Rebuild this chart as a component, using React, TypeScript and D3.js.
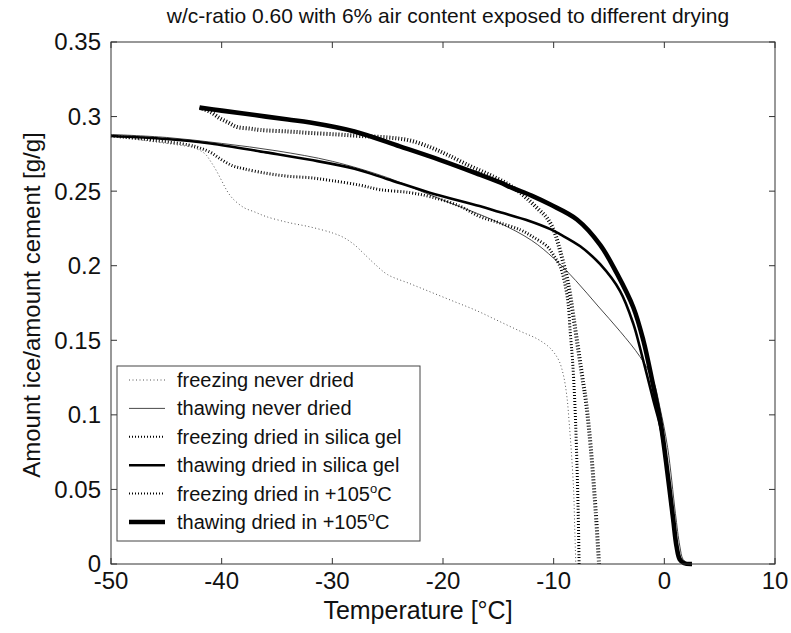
import React from "react";
import * as d3 from "d3";

const title = "w/c-ratio 0.60 with 6% air content exposed to different drying";
const xLabel = "Temperature [°C]";
const yLabel = "Amount ice/amount cement [g/g]";
const xTicks = [-50, -40, -30, -20, -10, 0, 10];
const yTicks = [0, 0.05, 0.1, 0.15, 0.2, 0.25, 0.3, 0.35];
const yTickLabels = ["0", "0.05", "0.1", "0.15", "0.2", "0.25", "0.3", "0.35"];

// freezing never dried
const fndT = [-50,-48,-46,-44,-42.5,-41.5,-41,-40.5,-40,-39.5,-39,-38,-37,-36,-34,-32,-30,-29,-28,-27,-26,-25,-23,-21,-19,-17,-15,-13,-11.5,-10.5,-10,-9.5,-9.1,-8.8,-8.6,-8.4,-8.2,-8.1,-8.0];
const fndV = [0.287,0.285,0.283,0.281,0.279,0.275,0.27,0.264,0.257,0.25,0.245,0.239,0.236,0.233,0.229,0.226,0.222,0.219,0.214,0.207,0.2,0.194,0.188,0.182,0.176,0.17,0.163,0.156,0.151,0.146,0.142,0.136,0.126,0.112,0.095,0.075,0.05,0.025,0.0];
// thawing never dried
const tndT = [-50,-45,-40,-35,-30,-25,-22,-20,-15,-12,-10,-8,-6,-4,-2.2,-1,-0.4,0.3,1.0,1.4,1.7,2.2];
const tndV = [0.288,0.286,0.282,0.277,0.27,0.259,0.25,0.244,0.229,0.217,0.205,0.19,0.173,0.156,0.139,0.123,0.105,0.078,0.034,0.012,0.003,0];
// freezing dried in silica gel
const fsgT = [-50,-46,-43,-42,-41,-40,-39,-38,-36,-34,-32,-30,-27.5,-25.7,-23,-21,-18.5,-16.7,-15,-13,-11.8,-10.6,-10,-9.4,-9,-8.7,-8.5,-8.3,-8.1,-7.95,-7.8,-7.7];
const fsgV = [0.287,0.284,0.281,0.279,0.276,0.271,0.267,0.265,0.262,0.26,0.259,0.257,0.254,0.251,0.249,0.246,0.24,0.233,0.229,0.224,0.219,0.213,0.207,0.199,0.188,0.175,0.155,0.137,0.11,0.08,0.04,0.0];
// thawing dried in silica gel
const tsgT = [-50,-45,-41,-36,-32,-28,-25,-21.2,-16.7,-14.9,-12.2,-10.3,-9.4,-7.6,-5.8,-4.0,-2.8,-2.2,-1.0,-0.3,0.3,0.7,1.0,1.3,1.6,2.0];
const tsgV = [0.287,0.285,0.282,0.276,0.271,0.265,0.258,0.249,0.24,0.236,0.23,0.2245,0.221,0.213,0.201,0.183,0.161,0.145,0.11,0.09,0.06,0.034,0.018,0.006,0.001,0];
// freezing dried in +105
const f105T = [-42,-41,-40.2,-39.4,-38.6,-37.5,-36.5,-34,-32,-29.5,-27.5,-25,-23,-21,-19.5,-17.6,-15.8,-14.2,-13.2,-12.4,-11.4,-10.6,-10,-9.6,-9.2,-8.8,-8.5,-8.2,-7.9,-7.6,-7.3,-7.1,-6.8,-6.5,-6.2,-5.9];
const f105V = [0.306,0.303,0.299,0.296,0.293,0.292,0.291,0.29,0.289,0.288,0.287,0.286,0.284,0.279,0.274,0.267,0.261,0.255,0.25,0.245,0.238,0.232,0.224,0.215,0.204,0.192,0.18,0.165,0.15,0.135,0.12,0.11,0.09,0.065,0.035,0];
// thawing dried in +105
const t105T = [-42,-40,-37,-34,-32,-28,-23.9,-20.3,-17,-14.9,-13.7,-12,-10.3,-7.9,-5.8,-4.3,-2.8,-1.9,-1.1,-0.3,0.3,0.8,1.1,1.4,1.8,2.5];
const t105V = [0.306,0.304,0.301,0.298,0.296,0.29,0.28,0.271,0.262,0.256,0.252,0.247,0.241,0.231,0.214,0.195,0.172,0.15,0.123,0.093,0.06,0.03,0.012,0.003,0.0005,0];

const seriesNames = [
  "freezing never dried",
  "thawing never dried",
  "freezing dried in silica gel",
  "thawing dried in silica gel",
  "freezing dried in +105",
  "thawing dried in +105",
];

const W = 791, H = 633;
const L = 111, R = 775, T = 42, B = 564;
const FONT = "'Liberation Sans', Arial, sans-serif";

export default function App() {
  const x = d3.scaleLinear().domain([-50, 10]).range([L, R]);
  const y = d3.scaleLinear().domain([0, 0.35]).range([B, T]);
  const lineN = d3.line<[number, number]>().x(d => x(d[0])).y(d => y(d[1])).curve(d3.curveCatmullRom);
  const zip = (a: number[], b: number[]) => a.map((v, i) => [v, b[i]] as [number, number]);

  const styles = [
    { stroke: "#555", width: 1, dash: "1,2.5" },
    { stroke: "#333", width: 0.9, dash: undefined },
    { stroke: "#000", width: 3, dash: "1,2" },
    { stroke: "#000", width: 2.6, dash: undefined },
    { stroke: "#000", width: 4, dash: "1,2" },
    { stroke: "#000", width: 4.6, dash: undefined },
  ];
  const data = [zip(fndT, fndV), zip(tndT, tndV), zip(fsgT, fsgV), zip(tsgT, tsgV), zip(f105T, f105V), zip(t105T, t105V)];

  const legX = 117, legY = 366, legW = 303, legH = 175;
  const rowY = (i: number) => 380 + i * 28.4;

  return (
    <svg width={W} height={H} style={{ position: "absolute", left: 0, top: 0, background: "#fff" }} fontFamily={FONT}>
      <rect x={0} y={0} width={W} height={H} fill="#fff" />
      <text x={448} y={23} fontSize={21} textAnchor="middle" fill="#111">{title}</text>
      <g fill="none">
        {data.map((d, i) => (
          <path key={i} d={lineN(d) || ""} stroke={styles[i].stroke} strokeWidth={styles[i].width}
            strokeDasharray={styles[i].dash} strokeLinejoin="round" />
        ))}
      </g>
      <rect x={L} y={T} width={R - L} height={B - T} fill="none" stroke="#333" strokeWidth={1} />
      {xTicks.map(t => (
        <g key={"x" + t}>
          <line x1={x(t)} x2={x(t)} y1={B} y2={B - 6} stroke="#333" />
          <line x1={x(t)} x2={x(t)} y1={T} y2={T + 6} stroke="#333" />
          <text x={x(t)} y={589} fontSize={24} textAnchor="middle" fill="#111">{t}</text>
        </g>
      ))}
      {yTicks.map((t, i) => (
        <g key={"y" + t}>
          <line x1={L} x2={L + 6} y1={y(t)} y2={y(t)} stroke="#333" />
          <line x1={R} x2={R - 6} y1={y(t)} y2={y(t)} stroke="#333" />
          <text x={101} y={y(t)} dy="0.35em" fontSize={24} textAnchor="end" fill="#111">{yTickLabels[i]}</text>
        </g>
      ))}
      <text x={418} y={619} fontSize={25} textAnchor="middle" fill="#111">{xLabel}</text>
      <text transform={`translate(40,305) rotate(-90)`} fontSize={24} textAnchor="middle" fill="#111">{yLabel}</text>
      <rect x={legX} y={legY} width={legW} height={legH} fill="#fff" stroke="#444" strokeWidth={1} />
      {seriesNames.map((n, i) => (
        <g key={n}>
          <line x1={129} x2={165} y1={rowY(i)} y2={rowY(i)} stroke={styles[i].stroke}
            strokeWidth={styles[i].dash ? Math.min(styles[i].width, 2) : styles[i].width}
            strokeDasharray={styles[i].dash} />
          <text x={177} y={rowY(i)} dy="0.35em" fontSize={20} fill="#111">
            {n}
            {i >= 4 ? <tspan dy="-8" fontSize={13}>o</tspan> : null}
            {i >= 4 ? <tspan dy="8">C</tspan> : null}
          </text>
        </g>
      ))}
    </svg>
  );
}
